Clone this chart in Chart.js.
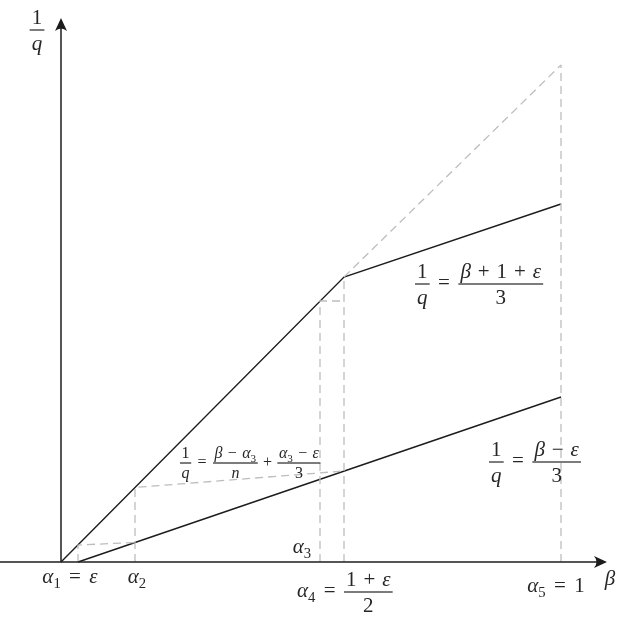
<!DOCTYPE html>
<html>
<head>
<meta charset="utf-8">
<script src="https://cdn.jsdelivr.net/npm/chart.js@4.4.1/dist/chart.umd.min.js"></script>
<style>
  html, body { margin: 0; padding: 0; background: #fff; }
  #wrap { width: 621px; height: 624px; position: relative; }
</style>
</head>
<body>
<div id="wrap"><canvas id="plot"></canvas></div>
<script>
(function () {
    'use strict';

    // ── Data (β on x, 1/q on y) ───────────────────────────────────────────────
    var upperX = [0, 0.566, 1.0];          // 1/q = β, then (β+1+ε)/3
    var upperY = [0, 0.570, 0.716];
    var lowerX = [0.034, 1.0];             // 1/q = (β-ε)/3
    var lowerY = [0, 0.330];
    var extX   = [0.566, 1.0];             // dashed continuation of 1/q = β
    var extY   = [0.570, 0.994];

    // dashed guides
    var guide1X = [0.034, 0.034, 0.148], guide1Y = [0, 0.034, 0.039];
    var guide2X = [0.148, 0.148, 0.566], guide2Y = [0, 0.149, 0.182];
    var guide3X = [0.518, 0.518, 0.566], guide3Y = [0, 0.522, 0.522];
    var guide4X = [0.566, 0.566],        guide4Y = [0, 0.570];
    var guide5X = [1.0, 1.0],            guide5Y = [0, 0.994];

    // axis extents (arrow tips)
    var betaAxis = [-0.122, 1.092];
    var qAxis    = [0, 1.088];

    var INK  = '#1c1c1c';
    var GREY = '#bdbdbd';
    var FONT = '"Liberation Serif", "DejaVu Serif", serif';

    function pts(xs, ys) {
        return xs.map(function (x, i) { return { x: x, y: ys[i] }; });
    }

    function solid(xs, ys) {
        return { data: pts(xs, ys), showLine: true, borderColor: INK, borderWidth: 1.4,
                 pointRadius: 0, fill: false, tension: 0 };
    }
    function dashed(xs, ys) {
        return { data: pts(xs, ys), showLine: true, borderColor: GREY, borderWidth: 1.3,
                 borderDash: [8, 5], pointRadius: 0, fill: false, tension: 0 };
    }

    // ── Math labels ──────────────────────────────────────────────────────────
    // parts: [text, style]  style: r = roman, i = italic, s = subscript, g = gap (em)
    var EQ    = [[0.4, 'g'], ['=', 'r'], [0.4, 'g']];
    var PLUS  = [[0.33, 'g'], ['+', 'r'], [0.33, 'g']];
    var MINUS = [[0.33, 'g'], ['−', 'r'], [0.33, 'g']];
    function seq() { return [].concat.apply([], arguments); }

    var labels = [
        { x: -0.048, y: 1.064, size: 21, align: 'center',
          items: [{ n: [['1', 'r']], d: [['q', 'i']] }] },
        { x: 0.018, y: -0.032, size: 21, align: 'center',
          items: [{ t: seq([['α', 'i'], ['1', 's']], EQ, [['ε', 'i']]) }] },
        { x: 0.152, y: -0.032, size: 21, align: 'center',
          items: [{ t: [['α', 'i'], ['2', 's']] }] },
        { x: 0.482, y: 0.028, size: 21, align: 'center',
          items: [{ t: [['α', 'i'], ['3', 's']] }] },
        { x: 0.472, y: -0.060, size: 21, align: 'left',
          items: [{ t: seq([['α', 'i'], ['4', 's']], EQ) },
                  { n: seq([['1', 'r']], PLUS, [['ε', 'i']]), d: [['2', 'r']] }] },
        { x: 0.990, y: -0.050, size: 21, align: 'center',
          items: [{ t: seq([['α', 'i'], ['5', 's']], EQ, [['1', 'r']]) }] },
        { x: 1.098, y: -0.036, size: 21, align: 'center',
          items: [{ t: [['β', 'i']] }] },
        { x: 0.708, y: 0.556, size: 21, align: 'left',
          items: [{ n: [['1', 'r']], d: [['q', 'i']] }, { t: EQ },
                  { n: seq([['β', 'i']], PLUS, [['1', 'r']], PLUS, [['ε', 'i']]), d: [['3', 'r']] }] },
        { x: 0.856, y: 0.200, size: 21, align: 'left',
          items: [{ n: [['1', 'r']], d: [['q', 'i']] }, { t: EQ },
                  { n: seq([['β', 'i']], MINUS, [['ε', 'i']]), d: [['3', 'r']] }] },
        { x: 0.238, y: 0.198, size: 16, align: 'left',
          items: [{ n: [['1', 'r']], d: [['q', 'i']] }, { t: EQ },
                  { n: seq([['β', 'i']], MINUS, [['α', 'i'], ['3', 's']]), d: [['n', 'i']] },
                  { t: PLUS },
                  { n: seq([['α', 'i'], ['3', 's']], MINUS, [['ε', 'i']]), d: [['3', 'r']] }] }
    ];

    function fontFor(style, size) {
        var s = style === 's' ? size * 0.7 : size;
        return (style === 'i' ? 'italic ' : '') + s + 'px ' + FONT;
    }
    function partWidth(ctx, p, size) {
        if (p[1] === 'g') return p[0] * size;
        ctx.font = fontFor(p[1], size);
        return ctx.measureText(p[0]).width;
    }
    function runWidth(ctx, parts, size) {
        var w = 0;
        parts.forEach(function (p) { w += partWidth(ctx, p, size); });
        return w;
    }
    function drawRun(ctx, parts, x, base, size) {
        parts.forEach(function (p) {
            if (p[1] !== 'g') {
                ctx.font = fontFor(p[1], size);
                ctx.fillText(p[0], x, p[1] === 's' ? base + size * 0.22 : base);
            }
            x += partWidth(ctx, p, size);
        });
        return x;
    }
    function itemWidth(ctx, it, size) {
        if (it.t) return runWidth(ctx, it.t, size);
        return Math.max(runWidth(ctx, it.n, size), runWidth(ctx, it.d, size)) + size * 0.2;
    }
    function drawRow(ctx, lab, px, py) {
        var size = lab.size;
        var total = 0;
        lab.items.forEach(function (it) { total += itemWidth(ctx, it, size); });
        var x = lab.align === 'center' ? px - total / 2 : px;
        lab.items.forEach(function (it) {
            var w = itemWidth(ctx, it, size);
            if (it.t) {
                drawRun(ctx, it.t, x, py + size * 0.25, size);
            } else {
                var wn = runWidth(ctx, it.n, size), wd = runWidth(ctx, it.d, size);
                drawRun(ctx, it.n, x + (w - wn) / 2, py - size * 0.3, size);
                drawRun(ctx, it.d, x + (w - wd) / 2, py + size * 0.95, size);
                ctx.fillRect(x, py - 0.6, w, 1.2);
            }
            x += w;
        });
    }

    function arrowHead(ctx, x, y, angle) {
        ctx.save();
        ctx.translate(x, y);
        ctx.rotate(angle);
        ctx.beginPath();
        ctx.moveTo(0, 0);
        ctx.lineTo(-13, -6);
        ctx.quadraticCurveTo(-8, 0, -13, 6);
        ctx.closePath();
        ctx.fill();
        ctx.restore();
    }

    var mathPlugin = {
        id: 'mathAxes',
        afterDatasetsDraw: function (chart) {
            var ctx = chart.ctx, sx = chart.scales.x, sy = chart.scales.y;
            var ox = sx.getPixelForValue(0), oy = sy.getPixelForValue(0);
            ctx.save();
            ctx.strokeStyle = INK;
            ctx.fillStyle = INK;
            ctx.lineWidth = 1.5;
            // β axis
            var bx0 = sx.getPixelForValue(betaAxis[0]), bx1 = sx.getPixelForValue(betaAxis[1]);
            ctx.beginPath(); ctx.moveTo(bx0, oy); ctx.lineTo(bx1 - 6, oy); ctx.stroke();
            arrowHead(ctx, bx1, oy, 0);
            // 1/q axis
            var qy0 = sy.getPixelForValue(qAxis[0]), qy1 = sy.getPixelForValue(qAxis[1]);
            ctx.beginPath(); ctx.moveTo(ox, qy0); ctx.lineTo(ox, qy1 + 6); ctx.stroke();
            arrowHead(ctx, ox, qy1, -Math.PI / 2);

            ctx.fillStyle = '#262626';
            ctx.textBaseline = 'alphabetic';
            ctx.textAlign = 'left';
            labels.forEach(function (lab) {
                drawRow(ctx, lab, sx.getPixelForValue(lab.x), sy.getPixelForValue(lab.y));
            });
            ctx.restore();
        }
    };

    new Chart(document.getElementById('plot'), {
        type: 'scatter',
        data: {
            datasets: [
                dashed(guide1X, guide1Y),
                dashed(guide2X, guide2Y),
                dashed(guide3X, guide3Y),
                dashed(guide4X, guide4Y),
                dashed(guide5X, guide5Y),
                dashed(extX, extY),
                solid(upperX, upperY),
                solid(lowerX, lowerY)
            ]
        },
        options: {
            responsive: true,
            maintainAspectRatio: false,
            animation: false,
            layout: { padding: 0 },
            plugins: { legend: { display: false }, tooltip: { enabled: false } },
            scales: {
                x: { type: 'linear', min: -0.122, max: 1.12, display: false },
                y: { type: 'linear', min: -0.124, max: 1.124, display: false }
            }
        },
        plugins: [mathPlugin]
    });
})();
</script>
</body>
</html>
